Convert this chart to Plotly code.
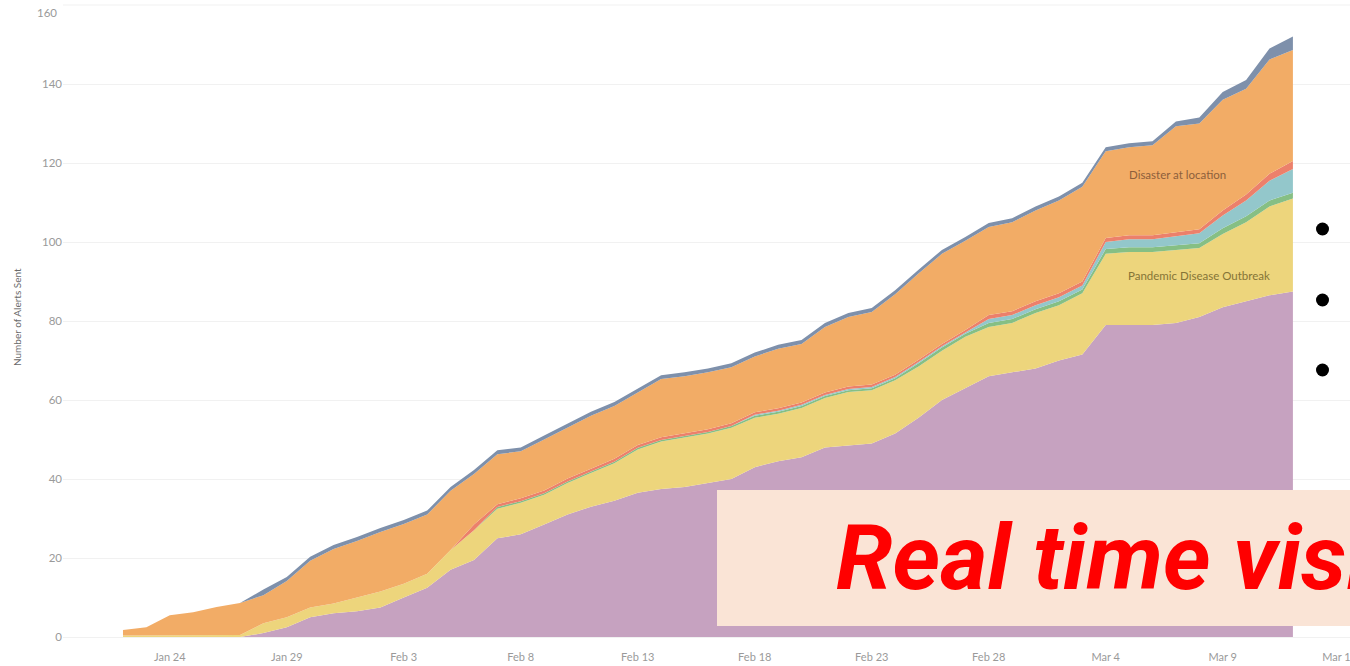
import plotly.graph_objects as go
import pandas as pd

# ---------------- data ----------------
dates = [
    "2020-01-22", "2020-01-23", "2020-01-24", "2020-01-25", "2020-01-26", "2020-01-27",
    "2020-01-28", "2020-01-29", "2020-01-30", "2020-01-31",
    "2020-02-01", "2020-02-02", "2020-02-03", "2020-02-04", "2020-02-05", "2020-02-06",
    "2020-02-07", "2020-02-08", "2020-02-09", "2020-02-10",
    "2020-02-11", "2020-02-12", "2020-02-13", "2020-02-14", "2020-02-15", "2020-02-16",
    "2020-02-17", "2020-02-18", "2020-02-19", "2020-02-20",
    "2020-02-21", "2020-02-22", "2020-02-23", "2020-02-24", "2020-02-25", "2020-02-26",
    "2020-02-27", "2020-02-28", "2020-02-29", "2020-03-01",
    "2020-03-02", "2020-03-03", "2020-03-04", "2020-03-05", "2020-03-06", "2020-03-07",
    "2020-03-08", "2020-03-09", "2020-03-10", "2020-03-11", "2020-03-12",
]

other_alerts = [0, 0, 0, 0, 0, 0, 1, 2.5, 5, 6,
                6.5, 7.5, 10, 12.5, 17, 19.5, 25, 26, 28.5, 31,
                33, 34.5, 36.5, 37.5, 38, 39, 40, 43, 44.5, 45.5,
                48, 48.5, 49, 51.5, 55.5, 60, 63, 66, 67, 68,
                70, 71.5, 79, 79, 79, 79.5, 81, 83.5, 85, 86.5, 87.5]

pandemic = [0.4, 0.4, 0.4, 0.4, 0.4, 0.5, 2.5, 2.5, 2.5, 2.5,
            3.5, 4, 3.5, 3.5, 5, 7.5, 7.5, 8, 7.5, 8,
            8.5, 9.5, 11, 12, 12.5, 12.5, 13, 12.5, 12, 12.5,
            12.5, 13.5, 13.5, 13.5, 13, 12.5, 13, 12.5, 12.5, 14,
            14, 15.5, 18, 18.5, 18.5, 18.5, 17.5, 18.5, 20, 22.5, 23.5]

green_cat = [0, 0, 0, 0, 0, 0, 0, 0, 0, 0,
             0, 0, 0, 0, 0, 0, 0.4, 0.4, 0.4, 0.4,
             0.4, 0.4, 0.4, 0.4, 0.4, 0.4, 0.4, 0.5, 0.5, 0.5,
             0.5, 0.5, 0.5, 0.5, 0.8, 0.8, 0.8, 1, 1, 1,
             1, 1, 1.2, 1.2, 1.2, 1.2, 1.2, 1.5, 1.5, 1.5, 1.5]

teal_cat = [0, 0, 0, 0, 0, 0, 0, 0, 0, 0,
            0, 0, 0, 0, 0, 0, 0, 0, 0, 0,
            0, 0, 0, 0, 0, 0, 0, 0.3, 0.3, 0.3,
            0.3, 0.3, 0.3, 0.3, 0.3, 0.3, 0.3, 1, 1, 1,
            1, 1, 1.8, 2, 2, 2.2, 2.5, 3.2, 4, 5, 6]

red_cat = [0, 0, 0, 0, 0, 0, 0, 0, 0, 0,
           0, 0, 0, 0, 0, 1.5, 0.7, 0.7, 0.7, 0.7,
           0.7, 0.7, 0.7, 0.7, 0.7, 0.7, 0.7, 0.6, 0.6, 0.6,
           0.6, 0.6, 0.6, 0.6, 0.6, 0.6, 0.6, 1, 1, 1,
           1, 1, 1, 1, 1, 1, 1, 1.3, 1.5, 1.8, 2]

disaster = [1.4, 2.1, 5.1, 5.9, 7.2, 8.1, 7.1, 9.2, 11.8, 13.8,
            14.3, 15.1, 15.1, 15, 15, 12.8, 12.7, 11.9, 12.9, 12.9,
            13.4, 13.4, 13.4, 14.7, 14.4, 14.4, 14.2, 14.1, 15.1, 14.8,
            16.6, 17.6, 18.4, 20.4, 21.8, 22.8, 22.6, 22.3, 22.5, 23,
            23.5, 24, 22, 22.3, 22.8, 26.9, 26.8, 28, 26.8, 28.9, 28.1]

top_cat = [0, 0, 0, 0, 0, 0, 1.4, 1, 1, 1,
           1, 1, 1, 1, 1, 1, 1, 1, 1, 1,
           1, 1, 1, 1, 1, 1, 1, 1, 1, 1,
           1, 1, 1, 1, 1, 1, 1, 1, 1, 1,
           1, 1, 1, 1, 1, 1.2, 1.5, 2, 2.2, 2.8, 3.4]

x_tick_vals = ["2020-01-24", "2020-01-29", "2020-02-03", "2020-02-08", "2020-02-13",
               "2020-02-18", "2020-02-23", "2020-02-28", "2020-03-04", "2020-03-09",
               "2020-03-14"]
x_tick_text = ["Jan 24", "Jan 29", "Feb 3", "Feb 8", "Feb 13", "Feb 18", "Feb 23",
               "Feb 28", "Mar 4", "Mar 9", "Mar 14"]
y_tick_vals = [0, 20, 40, 60, 80, 100, 120, 140, 160]
y_tick_text = ["0", "20", "40", "60", "80", "100", "120", "140", "160"]

series = [
    ("Other", other_alerts, "#c6a2c0"),
    ("Pandemic Disease Outbreak", pandemic, "#edd57c"),
    ("Green", green_cat, "#86bf84"),
    ("Teal", teal_cat, "#93c7cb"),
    ("Red", red_cat, "#ec806b"),
    ("Disaster at location", disaster, "#f2ac66"),
    ("Top", top_cat, "#7e90ab"),
]

# ---------------- figure ----------------
W, H = 1350, 666
ML, MR, MT, MB = 63, 0, 0, 25
PW, PH = W - ML - MR, H - MT - MB


def px_x(px):
    return (px - ML) / PW


def px_y(py):
    return (H - MB - py) / PH


fig = go.Figure()
for name, vals, col in series:
    fig.add_trace(go.Scatter(
        x=dates, y=vals, name=name, mode="lines", stackgroup="one",
        line=dict(width=0, color=col), fillcolor=col, hoverinfo="skip",
    ))

base = pd.Timestamp("2020-01-22")
x_left = base + pd.Timedelta(days=-2.564)
x_right = base + pd.Timedelta(days=52.44)

font_family = "Lato, 'Open Sans', sans-serif"
tick_font = dict(size=11.5, color="#9a9a9a", family=font_family)

fig.update_layout(
    width=W, height=H,
    margin=dict(l=ML, r=MR, t=MT, b=MB),
    paper_bgcolor="white", plot_bgcolor="white",
    showlegend=False,
    font=dict(family=font_family, color="#999999"),
    xaxis=dict(
        type="date", range=[x_left, x_right], automargin=False,
        tickvals=x_tick_vals, ticktext=x_tick_text,
        showgrid=False, zeroline=False, showline=False, ticks="",
        tickfont=dict(size=11, color="#9a9a9a"), ticklabelstandoff=8,
        ticklabeloverflow="allow",
    ),
    yaxis=dict(
        range=[-1.01, 161.27], automargin=False,
        tickvals=y_tick_vals[:-1], ticktext=y_tick_text[:-1],
        showgrid=True, gridcolor="#f1f1f1", gridwidth=1,
        zeroline=False, showline=False, ticks="",
        tickfont=tick_font,
    ),
)

# top gridline (160) and its label, kept inside the page like the reference
fig.add_hline(y=y_tick_vals[-1], line=dict(color="#f1f1f1", width=1), layer="below")
fig.add_annotation(
    xref="paper", yref="paper", x=px_x(59), y=px_y(13),
    xanchor="right", yanchor="middle", showarrow=False,
    text=y_tick_text[-1], font=tick_font,
)

# axis title
fig.add_annotation(
    xref="paper", yref="paper", x=px_x(17), y=px_y(317),
    text="Number of Alerts Sent", textangle=-90, showarrow=False,
    font=dict(size=10, color="#6a6a6a", family=font_family),
    xanchor="center", yanchor="middle",
)

# in-chart labels
fig.add_annotation(
    x="2020-03-07 02:00", y=117, text="Disaster at location", showarrow=False,
    font=dict(size=11.5, color="#8d5f3c", family=font_family),
)
fig.add_annotation(
    x="2020-03-08", y=91.6, text="Pandemic Disease Outbreak", showarrow=False,
    font=dict(size=11.5, color="#857437", family=font_family),
)

# slide overlay: pink box + red text
fig.add_shape(
    type="rect", xref="paper", yref="paper",
    x0=px_x(717), x1=px_x(1362), y0=px_y(626), y1=px_y(490),
    fillcolor="#fae4d6", line=dict(width=0), layer="above",
)
fig.add_annotation(
    xref="paper", yref="paper", x=px_x(834), y=px_y(558),
    xanchor="left", yanchor="middle", showarrow=False,
    text="<b><i>Real time visi</i></b>",
    font=dict(size=91, color="#ff0000", family="Roboto, 'Open Sans', sans-serif"),
)

# slide bullets
for by in [229, 300, 370]:
    fig.add_shape(
        type="circle", xref="paper", yref="paper",
        x0=px_x(1316), x1=px_x(1329), y0=px_y(by + 6.5), y1=px_y(by - 6.5),
        fillcolor="#000000", line=dict(width=0), layer="above",
    )

fig.write_html("out.html", config={"displayModeBar": False},
               post_script="document.body.style.margin='0px';")
